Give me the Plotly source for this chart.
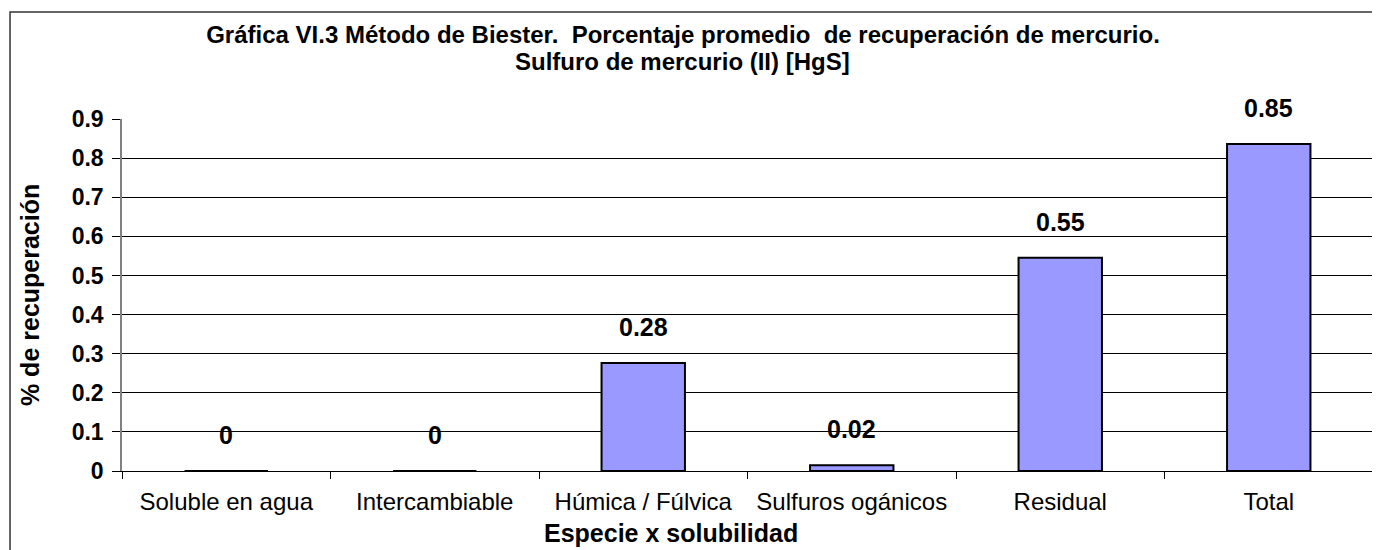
import plotly.graph_objects as go

categories = [
    "Soluble en agua",
    "Intercambiable",
    "Húmica / Fúlvica",
    "Sulfuros ogánicos",
    "Residual",
    "Total",
]
recovery = [0.0, 0.0, 0.276, 0.015, 0.545, 0.836]
value_labels = ["0", "0", "0.28", "0.02", "0.55", "0.85"]

y_ticks = [0, 0.1, 0.2, 0.3, 0.4, 0.5, 0.6, 0.7, 0.8, 0.9]
y_tick_text = ["0", "0.1", "0.2", "0.3", "0.4", "0.5", "0.6", "0.7", "0.8", "0.9"]

title_line1 = "Gráfica VI.3 Método de Biester.  Porcentaje promedio  de recuperación de mercurio."
title_line2 = "Sulfuro de mercurio (II) [HgS]"

FONT = "Liberation Sans, Arial, sans-serif"
BAR_FILL = "#9999FF"

fig = go.Figure(
    go.Bar(
        x=categories,
        y=recovery,
        width=0.4,
        marker={"color": BAR_FILL, "line": {"color": "black", "width": 2}},
        hoverinfo="x+y",
    )
)

# value labels above bars
for cat, val, txt in zip(categories, recovery, value_labels):
    fig.add_annotation(
        x=cat,
        y=val,
        text=f"<b>{txt}</b>",
        showarrow=False,
        yanchor="bottom",
        yshift=20,
        font={"family": FONT, "size": 25, "color": "black"},
    )

fig.add_annotation(
    text=f"<b>{title_line2}</b>",
    xref="paper",
    yref="paper",
    x=0.4484,
    y=1.162,
    xanchor="center",
    yanchor="middle",
    showarrow=False,
    font={"family": FONT, "size": 24, "color": "black"},
)
fig.add_annotation(
    text="<b>% de recuperación</b>",
    xref="paper",
    yref="paper",
    x=-0.0735,
    y=0.5,
    xanchor="center",
    yanchor="middle",
    textangle=-90,
    showarrow=False,
    font={"family": FONT, "size": 25, "color": "black"},
)
fig.add_annotation(
    text="<b>Especie x solubilidad</b>",
    xref="paper",
    yref="paper",
    x=0.4388,
    y=-0.176,
    xanchor="center",
    yanchor="middle",
    showarrow=False,
    font={"family": FONT, "size": 25, "color": "black"},
)

# chart border
fig.add_shape(
    type="rect",
    xref="paper",
    yref="paper",
    x0=-0.0895,
    x1=1.0032,
    y0=-0.28,
    y1=1.304,
    line={"color": "#333333", "width": 1.5},
    layer="below",
)

fig.update_layout(
    width=1372,
    height=542,
    margin={"l": 114, "r": 7, "t": 111, "b": 79},
    paper_bgcolor="white",
    plot_bgcolor="white",
    showlegend=False,
    bargap=0.6,
    font={"family": FONT, "color": "black"},
    title={
        "text": f"<b>{title_line1}</b>",
        "xref": "container",
        "yref": "container",
        "x": 675 / 1372,
        "y": 1 - 27 / 542,
        "xanchor": "center",
        "yanchor": "middle",
        "font": {"family": FONT, "size": 24, "color": "black"},
    },
)
fig.update_xaxes(
    type="category",
    showgrid=False,
    showline=True,
    linecolor="black",
    linewidth=1,
    ticks="outside",
    tickson="boundaries",
    ticklen=7,
    tickcolor="black",
    ticklabelstandoff=9,
    tickfont={"family": FONT, "size": 24, "color": "black"},
)
fig.update_yaxes(
    range=[0, 0.9],
    tickvals=y_ticks,
    ticktext=[f"<b>{t}</b>" for t in y_tick_text],
    showgrid=True,
    gridcolor="black",
    gridwidth=1,
    zeroline=False,
    showline=True,
    linecolor="#808080",
    linewidth=1.5,
    ticks="outside",
    ticklen=8,
    tickcolor="black",
    ticklabelstandoff=4,
    tickfont={"family": FONT, "size": 23, "color": "black"},
)

fig.write_html("out.html")
